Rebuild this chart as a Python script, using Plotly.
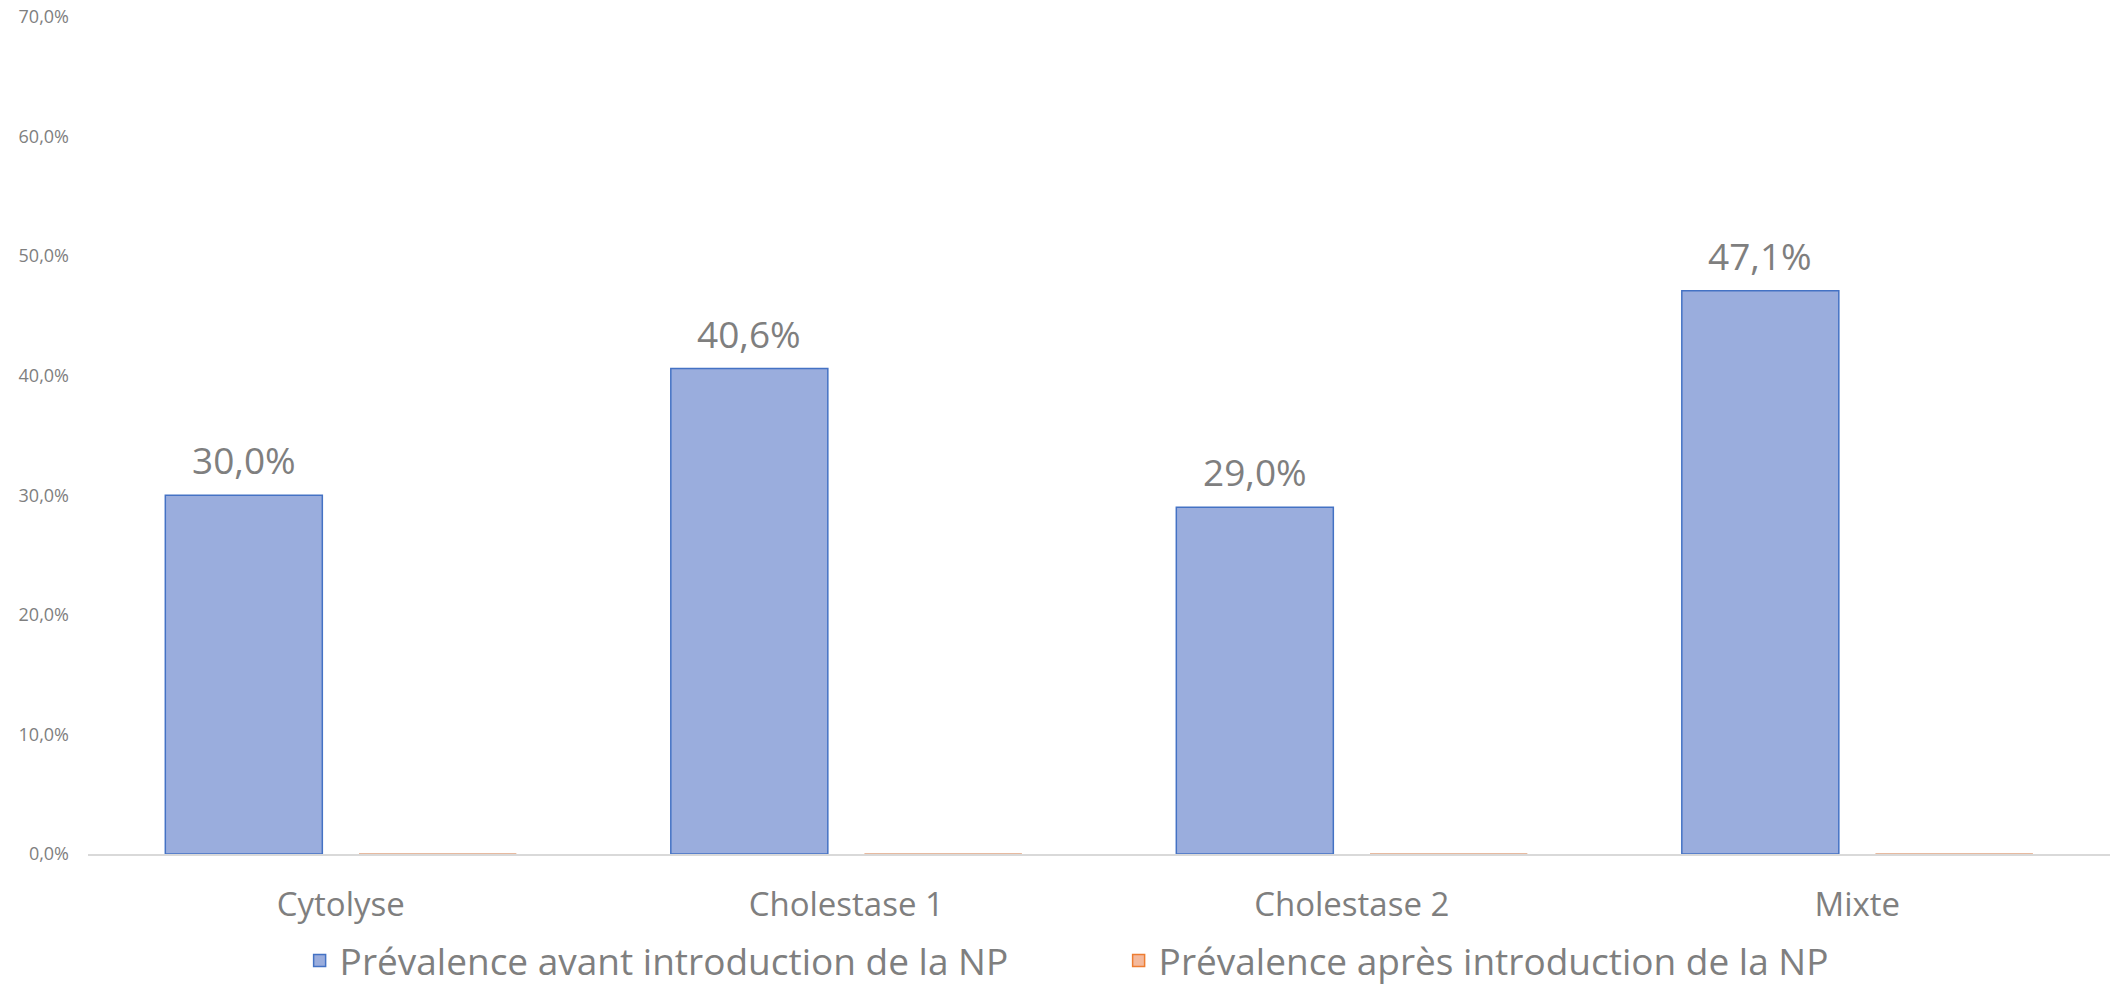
import plotly.graph_objects as go

# Prevalence per type of liver test abnormality (percent)
categories = ["Cytolyse", "Cholestase 1", "Cholestase 2", "Mixte"]
avant_np = [30.0, 40.6, 29.0, 47.1]
apres_np = [0.0, 0.0, 0.0, 0.0]
series_names = ["Prévalence avant introduction de la NP",
                "Prévalence après introduction de la NP"]
y_ticks = [0, 10, 20, 30, 40, 50, 60, 70]
y_tick_labels = [f"{t:.1f}".replace(".", ",") + "%" for t in y_ticks]

FONT = "Open Sans, Noto Sans, sans-serif"
GREY = "#7F7F7F"
BAR_GAP = 0.233
GROUP_GAP = 0.19

fig = go.Figure()
fig.add_trace(go.Bar(
    name=series_names[0], x=categories, y=avant_np,
    marker=dict(color="#9AADDD", line=dict(color="#4472C4", width=1.5)),
))
fig.add_trace(go.Bar(
    name=series_names[1], x=categories, y=apres_np,
    marker=dict(color="#F4B99C", line=dict(color="#ED7D31", width=1.5)),
))

# geometry of one bar inside its category group (in category units)
slot = (1 - BAR_GAP) / 2
half_w = slot * (1 - GROUP_GAP) / 2
off_blue = -slot / 2
off_orange = slot / 2

# value labels above the "avant" bars, written with a decimal comma
for i, v in enumerate(avant_np):
    fig.add_annotation(
        x=i + off_blue, y=v, xref="x", yref="y",
        text=f"{v:.1f}".replace(".", ",") + "%",
        showarrow=False, yanchor="bottom", yshift=8,
        font=dict(family=FONT, size=37, color=GREY),
    )

# zero-height "après" bars show only as a thin outline on the baseline
for i, v in enumerate(apres_np):
    fig.add_shape(
        type="line", xref="x", yref="y",
        x0=i + off_orange - half_w, x1=i + off_orange + half_w, y0=v, y1=v,
        line=dict(color="#E3C4B4", width=1.5), layer="above",
    )

fig.update_layout(
    width=2110, height=992,
    margin=dict(l=88, r=0, t=17, b=138, autoexpand=False),
    paper_bgcolor="white", plot_bgcolor="white",
    barmode="group", bargap=BAR_GAP, bargroupgap=GROUP_GAP,
    font=dict(family=FONT, color=GREY),
    showlegend=True,
    legend=dict(
        orientation="h", xref="container", x=0.142, xanchor="left",
        yref="container", y=0.0, yanchor="bottom",
        font=dict(family=FONT, size=37, color=GREY),
        entrywidth=774, entrywidthmode="pixels",
        bgcolor="rgba(0,0,0,0)",
    ),
    xaxis=dict(
        type="category", showgrid=False, showline=True,
        linecolor="#D9D9D9", linewidth=1.5, ticks="",
        tickfont=dict(family=FONT, size=33, color=GREY),
        ticklabelstandoff=21,
    ),
    yaxis=dict(
        range=[0, 70], tickvals=y_ticks, ticktext=y_tick_labels,
        showgrid=False, zeroline=False, showline=False, ticks="",
        tickfont=dict(family=FONT, size=18, color=GREY),
        ticklabelstandoff=18,
    ),
)

fig.write_html("out.html")
